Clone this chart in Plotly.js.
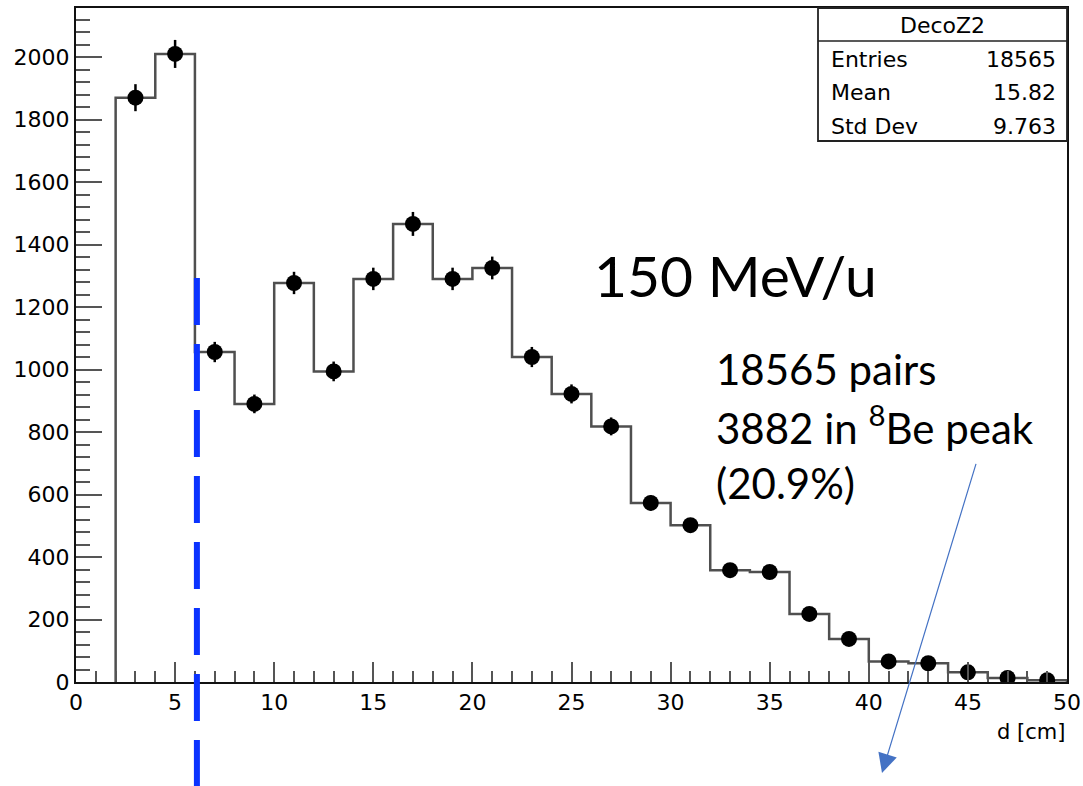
<!DOCTYPE html>
<html>
<head>
<meta charset="utf-8">
<script src="https://cdn.plot.ly/plotly-3.0.1.min.js"></script>
<style>
  html, body { margin: 0; padding: 0; background: #ffffff; }
  #chart { width: 1083px; height: 786px; }
</style>
</head>
<body>
<div id="chart"></div>
<script>
// DecoZ2: distance d between the two alphas, 2 cm bins from 2 to 50 cm
const binLow = [2, 4, 6, 8, 10, 12, 14, 16, 18, 20, 22, 24, 26, 28, 30, 32, 34, 36, 38, 40, 42, 44, 46, 48];
const binWidth = 2;
const counts = [1870, 2010, 1056, 890, 1277, 994, 1290, 1466, 1290, 1325, 1040, 922,
                818, 573, 502, 358, 352, 218, 138, 66, 60, 31, 13, 6];

// statistics box
const histName = 'DecoZ2';
const statLabels = ['Entries', 'Mean', 'Std Dev'];
const statValues = ['18565', '15.82', '9.763'];

// free text
const energyText = '150 MeV/u';
const noteLines = ['18565 pairs', '3882 in <sup>8</sup>Be peak', '(20.9%)'];

// cut position drawn as dashed line
const cutX = 6.1;

// bin centres for the points
const centers = binLow.map(b => b + binWidth / 2);

// step outline of the histogram
const stepX = [binLow[0]];
const stepY = [0];
binLow.forEach((b, i) => { stepX.push(b); stepY.push(counts[i]); });
const lastEdge = binLow[binLow.length - 1] + binWidth;
stepX.push(lastEdge); stepY.push(counts[counts.length - 1]);
stepX.push(lastEdge); stepY.push(0);

const rootFont = 'DejaVu Sans, Liberation Sans, Arial, sans-serif';
const slideFont = 'Lato, Open Sans, sans-serif';

const traces = [
  {
    type: 'scatter', mode: 'lines',
    x: stepX, y: stepY,
    line: { shape: 'hv', color: '#4f4f4f', width: 2.5 },
    hoverinfo: 'skip', showlegend: false
  },
  {
    type: 'scatter', mode: 'markers',
    x: centers, y: counts,
    marker: { color: '#000000', size: 16, symbol: 'circle' },
    error_y: { type: 'sqrt', visible: true, color: '#000000', thickness: 2.5, width: 0 },
    showlegend: false
  }
];

// plot frame in pixels: left 76, right 1067, top 8, bottom 682
const L = 76, R = 1067, T = 8, B = 682;
const px = v => (v - L) / (R - L);
const py = v => (B - v) / (B - T);

const annotations = [];
annotations.push({
  xref: 'paper', yref: 'paper', x: px(942), y: py(25),
  text: histName, showarrow: false, xanchor: 'center', yanchor: 'middle',
  font: { family: rootFont, size: 22, color: '#000' }
});
const statRows = [59, 93, 126];
statLabels.forEach((lab, i) => {
  annotations.push({
    xref: 'paper', yref: 'paper', x: px(829), y: py(statRows[i]),
    text: lab, showarrow: false, xanchor: 'left', yanchor: 'middle',
    font: { family: rootFont, size: 22, color: '#000' }
  });
  annotations.push({
    xref: 'paper', yref: 'paper', x: px(1058), y: py(statRows[i]),
    text: statValues[i], showarrow: false, xanchor: 'right', yanchor: 'middle',
    font: { family: rootFont, size: 22, color: '#000' }
  });
});
annotations.push({
  xref: 'paper', yref: 'paper', x: px(1067), y: py(732),
  text: 'd [cm]', showarrow: false, xanchor: 'right', yanchor: 'middle',
  font: { family: rootFont, size: 21, color: '#000' }
});
annotations.push({
  xref: 'paper', yref: 'paper', x: px(592), y: py(275),
  text: energyText, showarrow: false, xanchor: 'left', yanchor: 'middle',
  font: { family: slideFont, size: 57, color: '#000' }
});
const noteRows = [369, 425, 483];
noteLines.forEach((t, i) => {
  annotations.push({
    xref: 'paper', yref: 'paper', x: px(714), y: py(noteRows[i]),
    text: t, showarrow: false, xanchor: 'left', yanchor: 'middle',
    font: { family: slideFont, size: 42, color: '#000' }
  });
});
// pointer arrow
annotations.push({
  xref: 'paper', yref: 'paper', x: px(882), y: py(773),
  axref: 'pixel', ayref: 'pixel', ax: 97, ay: -319,
  text: ' ', showarrow: true, arrowhead: 2, arrowsize: 3.2, arrowwidth: 1.2,
  arrowcolor: '#4472c4', standoff: 0
});

const shapes = [
  {
    type: 'rect', xref: 'paper', yref: 'paper',
    x0: px(818), x1: 1, y0: py(141), y1: 1,
    line: { color: '#222', width: 1.8 }, fillcolor: '#ffffff', layer: 'above'
  },
  {
    type: 'line', xref: 'paper', yref: 'paper',
    x0: px(818), x1: 1, y0: py(41), y1: py(41),
    line: { color: '#222', width: 1.5 }, layer: 'above'
  },
  {
    type: 'line', xref: 'x', yref: 'paper',
    x0: cutX, x1: cutX, y0: py(278), y1: py(800),
    line: { color: '#0b33ff', width: 6, dash: '47px,19px' }, layer: 'above'
  }
];

const layout = {
  width: 1083, height: 786,
  margin: { l: L, r: 1083 - R, t: T, b: 786 - B },
  paper_bgcolor: '#ffffff', plot_bgcolor: '#ffffff',
  showlegend: false,
  xaxis: {
    range: [0, 50], showgrid: false, zeroline: false,
    showline: true, linecolor: '#111', linewidth: 2, mirror: true,
    ticks: 'inside', ticklen: 20, tickwidth: 2, tickcolor: '#555',
    tickmode: 'linear', tick0: 0, dtick: 5,
    minor: { ticks: 'inside', ticklen: 11, tickwidth: 2, tickcolor: '#555', dtick: 1, tick0: 0, showgrid: false },
    tickfont: { family: rootFont, size: 22, color: '#000' }
  },
  yaxis: {
    range: [0, 2157], showgrid: false, zeroline: false,
    showline: true, linecolor: '#111', linewidth: 2, mirror: true,
    ticks: 'inside', ticklen: 26, tickwidth: 2, tickcolor: '#555',
    tickmode: 'linear', tick0: 0, dtick: 200,
    minor: { ticks: 'inside', ticklen: 14, tickwidth: 2, tickcolor: '#555', dtick: 40, tick0: 0, showgrid: false },
    tickfont: { family: rootFont, size: 22, color: '#000' }
  },
  shapes: shapes,
  annotations: annotations
};

Plotly.newPlot('chart', traces, layout, { staticPlot: true, displayModeBar: false });
</script>
</body>
</html>
